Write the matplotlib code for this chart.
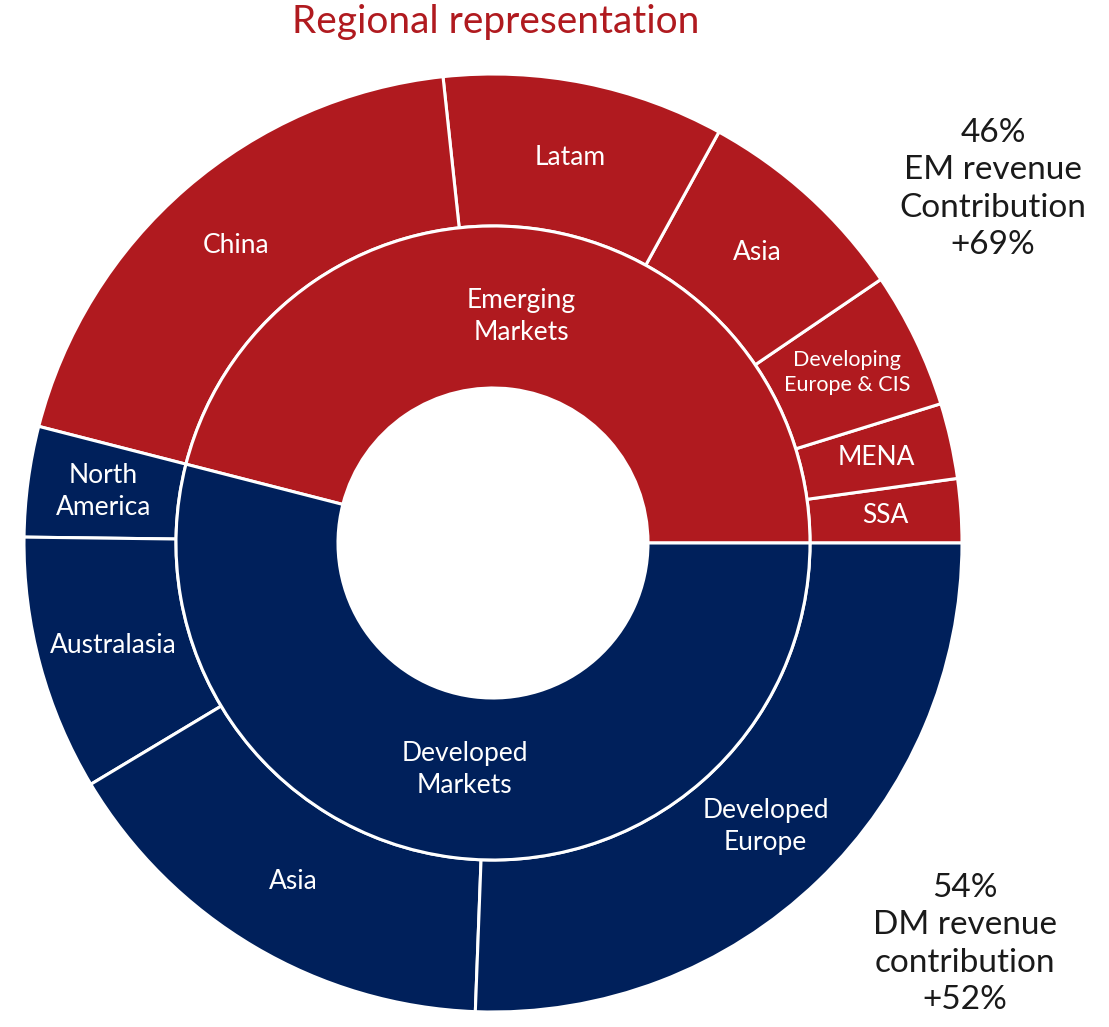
import numpy as np
import matplotlib.pyplot as plt

# Inner ring
groups = ['Emerging\nMarkets', 'Developed\nMarkets']
group_share = [46.0, 54.0]

# Outer ring, counterclockwise from 3 o'clock
regions = ['SSA', 'MENA', 'Developing\nEurope & CIS', 'Asia', 'Latam', 'China',
           'North\nAmerica', 'Australasia', 'Asia', 'Developed\nEurope']
region_share = [2.2, 2.6, 4.7, 7.5, 9.7, 19.3,
                3.8, 8.8, 15.8, 25.6]
region_group = [0, 0, 0, 0, 0, 0, 1, 1, 1, 1]

notes = ['46%\nEM revenue\nContribution\n+69%', '54%\nDM revenue\ncontribution\n+52%']

RED = '#B01A1F'
NAVY = '#00205B'
FONT = 'Lato'

W, H = 1109, 1027
fig = plt.figure(figsize=(W / 100, H / 100), dpi=100)
ax = fig.add_axes([0, 0, 1, 1])

cx, cy = 493, H - 543
r_out, r_mid, r_hole = 469, 317, 155
group_colors = [RED, NAVY]

# outer ring
ax.pie(region_share, radius=r_out, center=(cx, cy), startangle=0, counterclock=True,
       colors=[group_colors[g] for g in region_group],
       wedgeprops=dict(width=r_out - r_mid, edgecolor='white', linewidth=2.2))
# inner ring
ax.pie(group_share, radius=r_mid, center=(cx, cy), startangle=0, counterclock=True,
       colors=group_colors,
       wedgeprops=dict(width=r_mid - r_hole, edgecolor='white', linewidth=2.2))
ax.set_xlim(0, W)
ax.set_ylim(0, H)
ax.set_aspect('equal')
ax.axis('off')

# labels at mid angles
def mids(vals):
    c = np.cumsum([0] + list(vals))
    return (c[:-1] + c[1:]) / 2 / c[-1] * 2 * np.pi

for lab, a in zip(groups, mids(group_share)):
    ax.text(cx + 228 * np.cos(a), cy + 228 * np.sin(a), lab, ha='center', va='center',
            color='white', fontsize=19, family=FONT, linespacing=1.35)

for lab, a in zip(regions, mids(region_share)):
    fs = 15.5 if 'CIS' in lab else 19
    ax.text(cx + 393 * np.cos(a), cy + 393 * np.sin(a), lab, ha='center', va='center',
            color='white', fontsize=fs, family=FONT, linespacing=1.35)

ax.text(496, H - 22, 'Regional representation', ha='center', va='center',
        color=RED, fontsize=28, family=FONT)
ax.text(993, H - 189, notes[0], ha='center', va='center', color='#1a1a1a',
        fontsize=24, family=FONT, linespacing=1.3)
ax.text(965, H - 944, notes[1], ha='center', va='center', color='#1a1a1a',
        fontsize=24, family=FONT, linespacing=1.3)

fig.savefig('out.png', dpi=100)
